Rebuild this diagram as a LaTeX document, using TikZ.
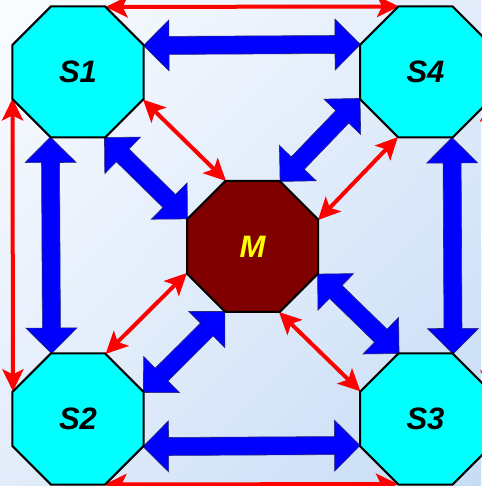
\documentclass[tikz,border=0pt]{standalone}
\usepackage{fontspec}
\setmainfont{Liberation Sans}
\usetikzlibrary{shapes.geometric,arrows.meta,calc,shadings}
\pgfdeclarelayer{bg}
\pgfdeclarelayer{arr}
\pgfsetlayers{bg,arr,main}
\definecolor{bgA}{RGB}{250,252,255}
\definecolor{bgB}{RGB}{226,236,250}
\definecolor{bgC}{RGB}{198,220,246}
\definecolor{maroonM}{RGB}{128,0,0}
\definecolor{aqua}{RGB}{0,255,255}
\definecolor{pureblue}{RGB}{0,0,255}
\definecolor{purered}{RGB}{255,0,0}
\definecolor{pureyellow}{RGB}{255,255,0}
\definecolor{blueedge}{RGB}{40,40,120}
\tikzset{
  oct/.style={regular polygon, regular polygon sides=8, minimum size=141.8pt,
    inner sep=0pt, outer sep=0pt, draw=black, line width=2pt,
    font=\fontsize{31}{31}\selectfont\bfseries\itshape},
  sat/.style={oct, fill=aqua},
  master/.style={oct, fill=maroonM, text=pureyellow},
  redarr/.style={draw=purered, line width=4pt,
    {Stealth[length=22pt,width=21pt,inset=5pt]}-{Stealth[length=22pt,width=21pt,inset=5pt]}},
  bluearr/.style={fill=pureblue, draw=blueedge, line width=0.6pt, line join=miter},
}
\newcommand{\blueDA}[2]{%
  \filldraw[bluearr] (#1)
    -- ($(#1)!25.5pt!(#2)!25.5pt!90:(#2)$)
    -- ($(#1)!25.5pt!(#2)!9pt!90:(#2)$)
    -- ($(#2)!25.5pt!(#1)!9pt!-90:(#1)$)
    -- ($(#2)!25.5pt!(#1)!25.5pt!-90:(#1)$)
    -- (#2)
    -- ($(#2)!25.5pt!(#1)!25.5pt!90:(#1)$)
    -- ($(#2)!25.5pt!(#1)!9pt!90:(#1)$)
    -- ($(#1)!25.5pt!(#2)!9pt!-90:(#2)$)
    -- ($(#1)!25.5pt!(#2)!25.5pt!-90:(#2)$)
    -- cycle;}
\begin{document}
\begin{tikzpicture}[x=1pt,y=1pt]
\useasboundingbox (0,0) rectangle (481,486);
\begin{pgfonlayer}{bg}
  \shade[upper left=bgA, upper right=bgB, lower left=bgB, lower right=bgC]
    (0,0) rectangle (481,486);
\end{pgfonlayer}
% nodes
\node[sat] (S1) at (78,414) {S1};
\node[sat] (S4) at (425.5,414) {S4};
\node[sat] (S2) at (78,67) {S2};
\node[sat] (S3) at (425.5,67) {S3};
\node[master] (M) at (252.5,239.5) {M};
\begin{pgfonlayer}{arr}
  % red outer ring
  \draw[redarr] (S1.67.5) -- (S4.112.5);
  \draw[redarr] (S1.202.5) -- (S2.157.5);
  \draw[redarr] (S2.292.5) -- (S3.247.5);
  \draw[redarr] (S4.337.5) -- (S3.22.5);
  % red diagonals
  \draw[redarr] (S1.337.5) -- (M.112.5);
  \draw[redarr] (S4.247.5) -- (M.22.5);
  \draw[redarr] (M.202.5) -- (S2.67.5);
  \draw[redarr] (M.292.5) -- (S3.157.5);
  % blue outer ring
  \blueDA{S1.22.5}{S4.157.5}
  \blueDA{S1.247.5}{S2.112.5}
  \blueDA{S2.337.5}{S3.202.5}
  \blueDA{S4.292.5}{S3.67.5}
  % blue diagonals
  \blueDA{S1.292.5}{M.157.5}
  \blueDA{S4.202.5}{M.67.5}
  \blueDA{M.247.5}{S2.22.5}
  \blueDA{M.337.5}{S3.112.5}
\end{pgfonlayer}
\end{tikzpicture}
\end{document}
